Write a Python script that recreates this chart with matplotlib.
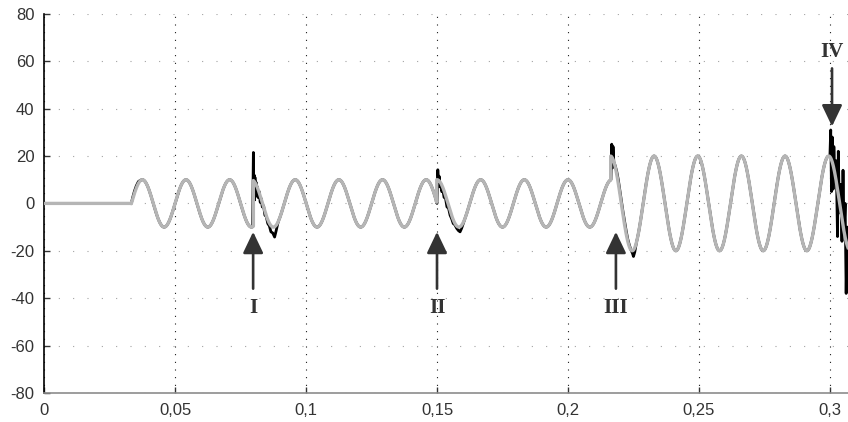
#!/usr/bin/env python3
"""
Reference (grey) vs measured (black) waveform with disturbances I-IV marked.
"""

import numpy as np
import matplotlib
matplotlib.use('Agg')
import matplotlib.pyplot as plt
from matplotlib.ticker import FixedLocator, FuncFormatter

plt.rcParams['axes.unicode_minus'] = False

# --- reference waveform: piecewise 60 Hz cosine, one entry per segment ---
FREQ_HZ = 60.0
T_END = 0.3069
seg_start = [0.0, 0.0333, 0.0799, 0.1499, 0.2163]
seg_amp = [0.0, 10.0, 10.0, 10.0, 20.0]
seg_crest = [0.0, 0.0375, 0.0792, 0.1500, 0.2162]   # time of one crest per segment

w0_t = [0.0333, 0.0338, 0.0345, 0.0352, 0.0360, 0.0368]
w0_v = [0.0, 2.4, 5.2, 7.4, 9.2, 9.8]

w1_t = [0.0796, 0.0799, 0.08005, 0.0802, 0.08035, 0.0805, 0.0807, 0.0809, 0.0811,
        0.0814, 0.0817, 0.0821, 0.0825, 0.0829, 0.0833, 0.0838, 0.0843, 0.0848,
        0.0854, 0.0860, 0.0866, 0.0873, 0.0880, 0.0886, 0.0892, 0.0895]
w1_v = [-9.7, 21.5, 1.0, 12.0, 1.5, 11.0, 3.0, 9.0, 4.0,
        7.0, 2.5, 5.0, 0.5, 2.0, -1.5, -1.0, -5.0, -5.5,
        -8.5, -9.5, -12.0, -12.5, -14.2, -11.5, -8.5, -7.3]

w2_t = [0.1497, 0.1500, 0.1503, 0.1506, 0.1508, 0.1511, 0.1514, 0.1518, 0.1522,
        0.1527, 0.1532, 0.1538, 0.1544, 0.1550, 0.1556, 0.1562, 0.1568, 0.1575,
        0.1582, 0.1588, 0.1594, 0.1600, 0.1603]
w2_v = [0.8, 0.0, 14.2, 8.5, 11.5, 7.0, 8.5, 5.0, 6.0,
        2.5, 2.5, -1.5, -2.0, -5.0, -6.5, -8.5, -9.0, -10.5,
        -11.5, -12.0, -10.5, -8.5, -7.4]

w3_t = [0.2160, 0.2164, 0.2167, 0.2170, 0.2172, 0.2175, 0.2180, 0.2186, 0.2192,
        0.2198, 0.2204, 0.2210, 0.2216, 0.2222, 0.2228, 0.2234, 0.2240, 0.2246,
        0.2250, 0.2255, 0.2260]
w3_v = [9.6, 10.0, 25.0, 15.0, 24.0, 17.5, 16.0, 13.5, 10.0,
        5.5, 1.0, -3.5, -7.5, -11.5, -15.0, -17.5, -19.5, -21.0,
        -22.4, -20.5, -17.2]

w4_t = [0.2992, 0.3000, 0.3003, 0.3006, 0.3009, 0.3012, 0.3015, 0.3019, 0.3024,
        0.3029, 0.3032, 0.3036, 0.3041, 0.3046, 0.3050, 0.3054, 0.3058, 0.3062,
        0.3066, 0.3070]
w4_v = [19.8, 20.0, 31.0, 5.0, 28.0, 6.0, 24.0, 10.0, 18.0,
        -14.0, 22.0, -4.0, 8.0, -16.0, 14.0, -12.0, 0.0, -38.0,
        -10.0, -30.0]

# --- event markers ---
event_labels = ['I', 'II', 'III', 'IV']
event_x = [0.0798, 0.1500, 0.2183, 0.3008]
event_up = [True, True, True, False]   # arrow pointing up (from below) or down

x_ticks = [0, 0.05, 0.1, 0.15, 0.2, 0.25, 0.3]
y_ticks = [-80, -60, -40, -20, 0, 20, 40, 60, 80]


def reference_wave():
    """Build the grey reference signal segment by segment (jumps kept vertical)."""
    ends = seg_start[1:] + [T_END]
    ts, vs = [], []
    for s, e, a, c in zip(seg_start, ends, seg_amp, seg_crest):
        t = np.linspace(s, e, max(int((e - s) * 20000), 2))
        ts.append(t)
        vs.append(a * np.cos(2 * np.pi * FREQ_HZ * (t - c)))
    return np.concatenate(ts), np.concatenate(vs)


def measured_wave(t_ref, v_ref):
    """Reference signal with the read-off disturbance windows spliced in."""
    windows = [(w0_t, w0_v), (w1_t, w1_v), (w2_t, w2_v), (w3_t, w3_v), (w4_t, w4_v)]
    keep = np.ones(len(t_ref), dtype=bool)
    for wt, _ in windows:
        keep &= ~((t_ref >= wt[0]) & (t_ref <= wt[-1]))
    t = np.concatenate([t_ref[keep]] + [np.array(wt) for wt, _ in windows])
    v = np.concatenate([v_ref[keep]] + [np.array(wv) for _, wv in windows])
    order = np.argsort(t, kind='stable')
    return t[order], v[order]


def comma_fmt(x, pos):
    s = f"{x:.2f}".rstrip('0').rstrip('.')
    return s.replace('.', ',')


def main():
    t_ref, v_ref = reference_wave()
    t_meas, v_meas = measured_wave(t_ref, v_ref)

    fig = plt.figure(figsize=(8.48, 4.22), dpi=100)
    ax = fig.add_axes([0.052, 0.069, 0.948, 0.898])

    ax.plot(t_meas, v_meas, color='black', linewidth=2.0, zorder=2)
    ax.plot(t_ref, v_ref, color='#b5b5b5', linewidth=2.4, zorder=3)

    # arrows + roman numerals
    for lab, x, up in zip(event_labels, event_x, event_up):
        if up:
            tail, tip, ly = -36, -12, -44
        else:
            tail, tip, ly = 57, 32.5, 64
        ax.annotate('', xy=(x, tip), xytext=(x, tail),
                    arrowprops=dict(arrowstyle='-|>,head_length=0.65,head_width=0.31',
                                    color='#333333', lw=1.9, mutation_scale=20,
                                    shrinkA=0, shrinkB=0),
                    zorder=4)
        ax.text(x, ly, lab, ha='center', va='center', fontsize=15,
                fontweight='bold', family='Liberation Serif', color='#333333',
                zorder=4)

    ax.set_xlim(0, T_END)
    ax.set_ylim(-80, 80)
    ax.xaxis.set_major_locator(FixedLocator(x_ticks))
    ax.yaxis.set_major_locator(FixedLocator(y_ticks))
    ax.xaxis.set_major_formatter(FuncFormatter(comma_fmt))

    ax.xaxis.grid(True, color='black', linestyle=(0, (0.9, 6)), linewidth=0.8)
    ax.yaxis.grid(True, color='#999999', linestyle=(0, (0.9, 12)), linewidth=0.8)
    ax.set_axisbelow(True)

    for side in ('top', 'right'):
        ax.spines[side].set_visible(False)
    ax.spines['left'].set_color('black')
    ax.spines['left'].set_linewidth(1.2)
    ax.spines['bottom'].set_color('#8c8c8c')
    ax.spines['bottom'].set_linewidth(1.2)

    ax.tick_params(direction='in', length=4, width=1, colors='#333333',
                   labelsize=12, pad=7)
    for lbl in ax.get_xticklabels() + ax.get_yticklabels():
        lbl.set_family('Liberation Sans')

    plt.savefig('out.png', dpi=100)
    plt.close(fig)


if __name__ == "__main__":
    main()
